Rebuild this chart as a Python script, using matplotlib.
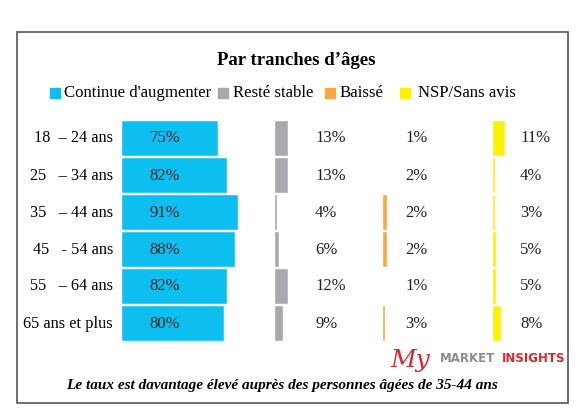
import matplotlib.pyplot as plt
from matplotlib.patches import Rectangle

# donnees
tranches = ["18  \u2013 24 ans", "25   \u2013 34 ans", "35   \u2013 44 ans",
            "45   - 54 ans", "55   \u2013 64 ans", "65 ans et plus"]
series = ["Continue d'augmenter", "Rest\u00e9 stable", "Baiss\u00e9", "NSP/Sans avis"]
augmenter = [75, 82, 91, 88, 82, 80]
stable = [13, 13, 4, 6, 12, 9]
baisse = [1, 2, 2, 2, 1, 3]
nsp = [11, 4, 3, 5, 5, 8]
# longueur des barres telle que dessinee dans l'image (en points de %)
stable_bar = [13, 13, 1.5, 3.5, 13, 8]
baisse_bar = [0, 0, 4, 4, 0, 1.5]
nsp_bar = [12, 1.5, 1.5, 3, 3, 8]

couleurs = ["#0DBEF0", "#A7A9AC", "#F9A73E", "#FFF200"]

plt.rcParams['font.family'] = ['Liberation Serif', 'DejaVu Serif']

fig = plt.figure(figsize=(5.76, 4.12), dpi=100)
ax = fig.add_axes([0, 0, 1, 1])
ax.set_xlim(0, 576)
ax.set_ylim(412, 0)
ax.axis("off")

# cadre
ax.add_patch(Rectangle((17, 32), 551, 371, fill=False, edgecolor="#555555", linewidth=1.2))

ax.text(296, 60, "Par tranches d\u2019\u00e2ges", ha="center", va="center",
        fontsize=13.5, fontweight="bold")

# legende
leg_x = [50, 218, 325, 400]
leg_tx = [64, 233, 340, 418]
for c, s, lx, tx in zip(couleurs, series, leg_x, leg_tx):
    ax.add_patch(Rectangle((lx, 88), 10, 10, color=c))
    ax.text(tx, 93, s, ha="left", va="center", fontsize=12.1)

# barres
row_top = 120
row_h = 37
cols = [(augmenter, augmenter, 122, 1.28, couleurs[0], 165, "center"),
        (stable, stable_bar, 275, 1.0, couleurs[1], 315, "left"),
        (baisse, baisse_bar, 383, 1.0, couleurs[2], 405, "left"),
        (nsp, nsp_bar, 493, 1.0, couleurs[3], 520, "left")]

for i, lab in enumerate(tranches):
    y0 = row_top + i * row_h
    yc = y0 + row_h / 2
    ax.text(113, yc, lab, ha="right", va="center", fontsize=11.7)
    for vals, bars, x0, sc, c, tx, ha in cols:
        if bars[i] > 0:
            ax.barh(yc, bars[i] * sc, height=row_h - 1.5, left=x0, color=c,
                    edgecolor="white", linewidth=0.3)
        ax.text(tx, yc, f"{vals[i]}%", ha=ha, va="center", fontsize=12, color="#222222")

# logo
ax.text(390, 360, "My", ha="left", va="center", fontsize=18, color="#D7282F",
        style="italic", family=["DejaVu Serif"])
ax.text(440, 359, "MARKET", ha="left", va="center", fontsize=8.5, color="#8A8C8E",
        family=["DejaVu Sans"], fontweight="bold")
ax.text(502, 359, "INSIGHTS", ha="left", va="center", fontsize=8.5, color="#D7282F",
        family=["DejaVu Sans"], fontweight="bold")

ax.text(282, 385, "Le taux est davantage \u00e9lev\u00e9 aupr\u00e8s des personnes \u00e2g\u00e9es de 35-44 ans",
        ha="center", va="center", fontsize=11, style="italic", fontweight="bold")

fig.savefig("out.png", dpi=100)
